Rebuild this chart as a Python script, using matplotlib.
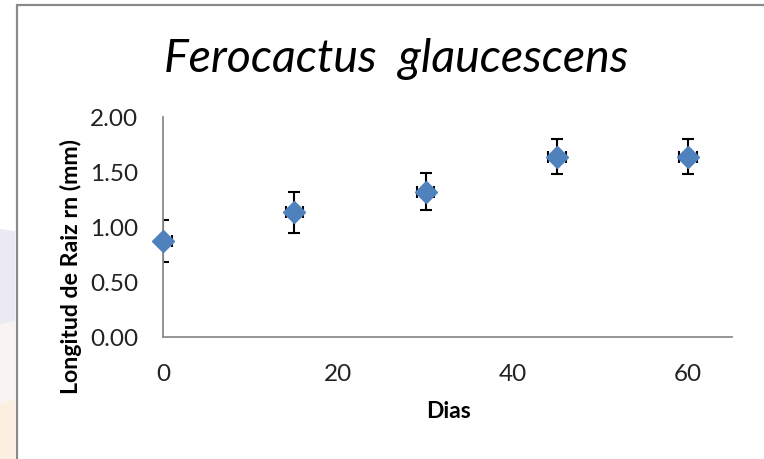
import matplotlib
matplotlib.use("Agg")
import matplotlib.pyplot as plt
from matplotlib.lines import Line2D
from matplotlib.patches import Polygon

# ---- data ----
dias = [0, 15, 30, 45, 60]
longitud = [0.87, 1.13, 1.32, 1.64, 1.64]
error_y = [0.19, 0.19, 0.17, 0.16, 0.16]
error_x = [1.0, 1.0, 1.0, 1.0, 1.0]
y_ticks = [0.0, 0.5, 1.0, 1.5, 2.0]
y_ticklabels = ["0.00", "0.50", "1.00", "1.50", "2.00"]
x_ticks = [0, 20, 40, 60]
x_ticklabels = ["0", "20", "40", "60"]
title = "Ferocactus  glaucescens"
xlabel = "Dias"
ylabel = "Longitud de Raiz rn (mm)"

W, H = 764, 460
plt.rcParams['font.family'] = ['Lato', 'DejaVu Sans']
fig = plt.figure(figsize=(W / 100, H / 100), dpi=100)
fig.patch.set_facecolor("white")

def fx(px):
    return px / W

def fy(py):
    return 1 - py / H

# faint watermark at the left edge
wm = [
    ([(0, 230), (15, 232), (15, 322), (0, 325)], "#dcd8e6", 0.55),
    ([(0, 325), (15, 322), (15, 400), (0, 405)], "#f3e6e0", 0.45),
    ([(0, 405), (15, 400), (15, 460), (0, 460)], "#fbe0c8", 0.55),
]
for pts, col, a in wm:
    fig.patches.append(Polygon([(fx(x), fy(y)) for x, y in pts], closed=True,
                               transform=fig.transFigure, facecolor=col,
                               edgecolor="none", alpha=a, zorder=0))

# chart border (gray frame)
fig.lines.append(Line2D([fx(17), fx(17), fx(764)], [fy(460), fy(6), fy(6)],
                        transform=fig.transFigure, color="#8a8a8a", lw=1.6,
                        solid_joinstyle="miter"))

ax = fig.add_axes([fx(163), fy(337.5), fx(732) - fx(163), fy(118) - fy(337.5)])
ax.set_xlim(0, 65)
ax.set_ylim(0, 2)

ax.errorbar(dias, longitud, yerr=error_y, xerr=error_x, fmt="none",
            ecolor="black", elinewidth=1.5, capsize=4, capthick=1.5, zorder=2)
ax.plot(dias, longitud, linestyle="none", marker="D", markersize=11,
        color="#4F81BD", markeredgecolor="#4F81BD", zorder=3, clip_on=False)

for s in ["top", "right"]:
    ax.spines[s].set_visible(False)
for s in ["left", "bottom"]:
    ax.spines[s].set_color("#8c8c8c")
    ax.spines[s].set_linewidth(1.3)

ax.set_yticks(y_ticks)
ax.set_yticklabels(y_ticklabels)
ax.set_xticks(x_ticks)
ax.set_xticklabels(x_ticklabels)
ax.tick_params(axis="both", length=0, labelsize=17.5, colors="#222222")
ax.tick_params(axis="y", pad=18)
ax.tick_params(axis="x", pad=19)

fig.text(fx(396), fy(72), title, ha="center", va="baseline", fontsize=33.5,
         style="italic", color="black")
fig.text(fx(449), fy(412), xlabel, ha="center", va="center", fontsize=16.5,
         fontweight="bold", color="black")
fig.text(fx(71), fy(266), ylabel, ha="center", va="center", fontsize=16.7,
         fontweight="bold", rotation=90, color="black")

fig.savefig("out.png", dpi=100, facecolor="white")
